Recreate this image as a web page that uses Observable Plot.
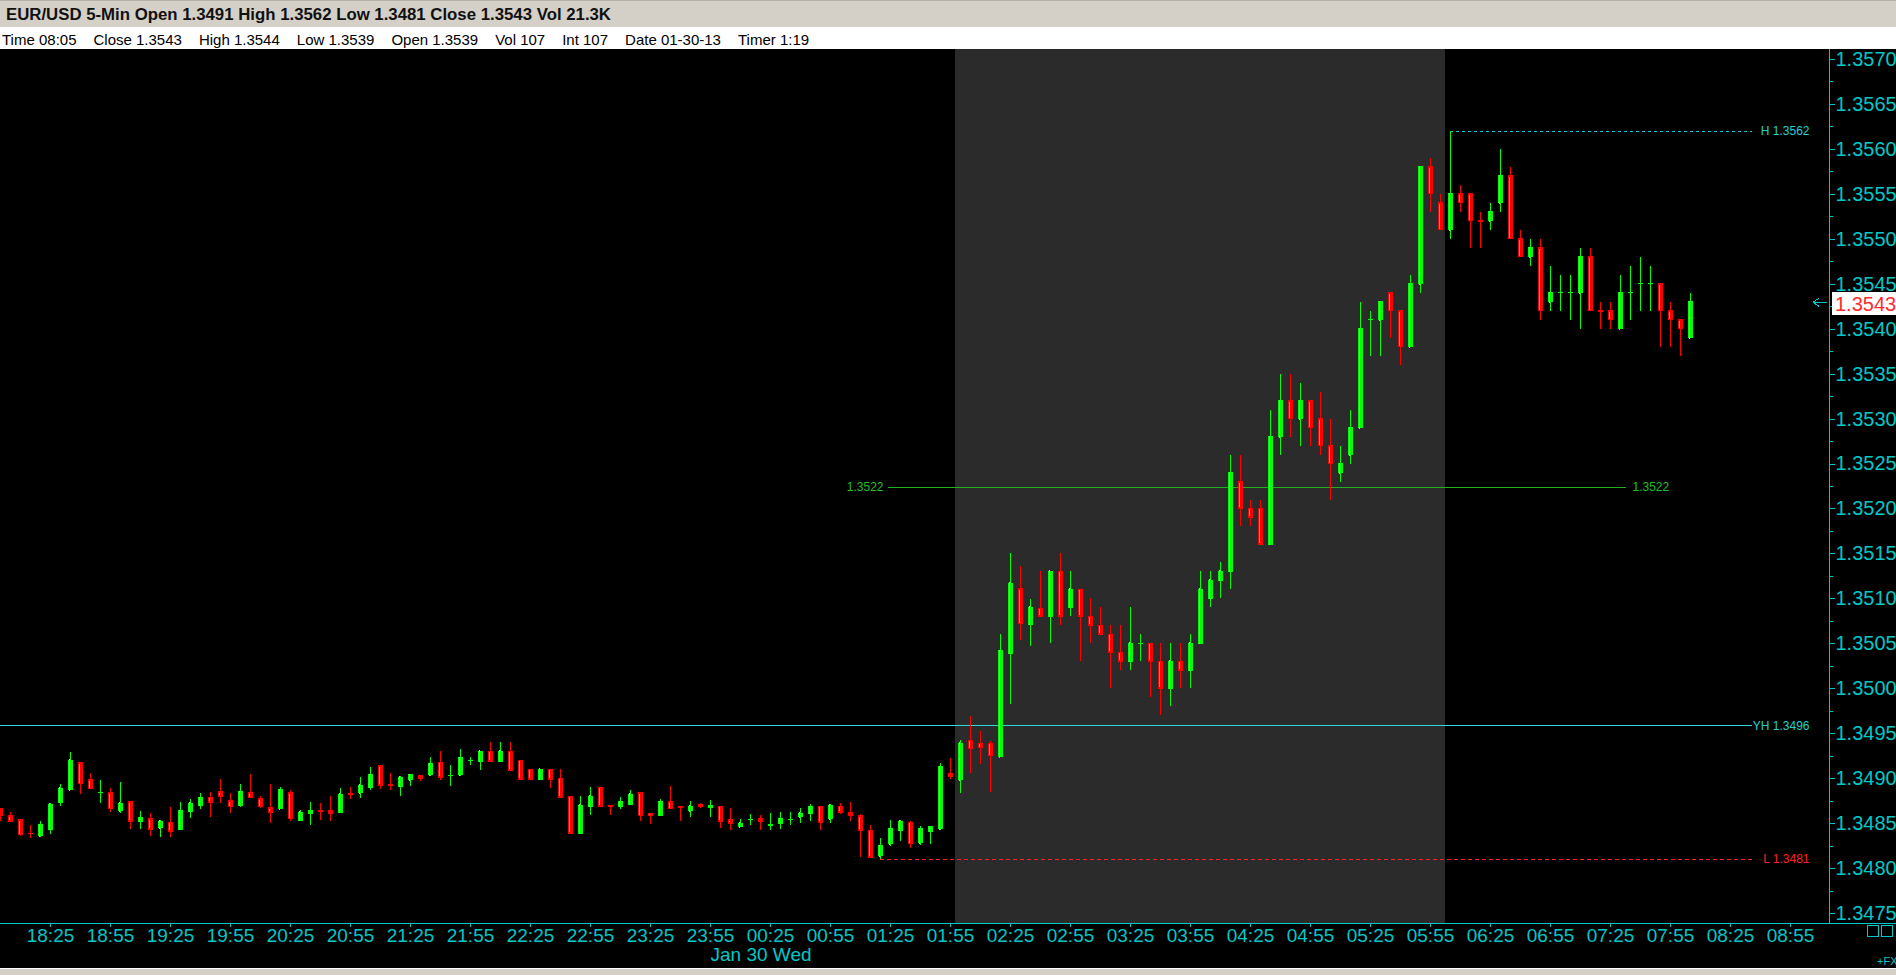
<!DOCTYPE html>
<html>
<head>
<meta charset="utf-8">
<script src="https://cdn.jsdelivr.net/npm/d3@7"></script>
<script src="https://cdn.jsdelivr.net/npm/@observablehq/plot@0.6"></script>
<style>
  html, body { margin: 0; padding: 0; width: 1896px; height: 975px; overflow: hidden; background: #d4d0c8; }
  #title { position: absolute; left: 0; top: 0; width: 1896px; height: 27px; background: #d4d0c8; border-top: 1px solid #b4b0a8; box-sizing: border-box;
           font: bold 16.8px "Liberation Sans", Arial, sans-serif; color: #111; line-height: 28px; padding-left: 6px; white-space: pre; }
  #info { position: absolute; left: 0; top: 27px; width: 1896px; height: 22px; background: #fff; overflow: hidden; }
  #infoRow { position: absolute; left: 2px; top: 2px; display: flex; gap: 17px; font: 15px "Liberation Sans", Arial, sans-serif; line-height: 22px; color: #000; white-space: pre; }
  #chart { position: absolute; left: 0; top: 49px; width: 1896px; height: 919px; background: #000; }
  #foot { position: absolute; left: 0; top: 968px; width: 1896px; height: 7px; background: #d4d0c8; border-top: 1px solid #fff; box-sizing: border-box; }
  .box { position: absolute; width: 10px; height: 10px; border: 1px solid #00c8c8; top: 925px; }
  #fx { position: absolute; left: 1877px; top: 955px; font: 11px "Liberation Sans", Arial, sans-serif; color: #00c8c8; }
</style>
</head>
<body>
<div id="title"></div>
<div id="info"><div id="infoRow"></div></div>
<div id="chart"></div>
<div class="box" style="left:1867px"></div>
<div class="box" style="left:1881px"></div>
<div id="fx">+FX</div>
<div id="foot"></div>
<script>
// ---------------- DATA ----------------
const titleText = "EUR/USD 5-Min Open 1.3491 High 1.3562 Low 1.3481 Close 1.3543 Vol 21.3K";
const infoFields = ["Time 08:05", "Close 1.3543", "High 1.3544", "Low 1.3539", "Open 1.3539", "Vol 107", "Int 107", "Date 01-30-13", "Timer 1:19"];

// 5-minute bars, first bar 18:00 (Jan 29), last bar 08:05 (Jan 30)
const firstBar = "2013-01-29T18:00:00Z";
const barMinutes = 5;

const open = [
1.34866,1.34858,1.34854,1.34839,1.34836,1.34843,1.34873,1.34887,1.34917,1.34898,
1.34884,1.34884,1.34864,1.34874,1.34852,1.34855,1.34845,1.34851,1.34843,1.34863,
1.34870,1.34879,1.34885,1.34875,1.34870,1.34884,1.34877,1.34867,1.34866,1.34884,
1.34853,1.34861,1.34864,1.34864,1.34862,1.34883,1.34884,1.34890,1.34914,1.34893,
1.34891,1.34898,1.34903,1.34904,1.34918,1.34903,1.34904,1.34920,1.34919,1.34930,
1.34919,1.34930,1.34920,1.34910,1.34899,1.34910,1.34900,1.34880,1.34839,1.34869,
1.34890,1.34870,1.34869,1.34871,1.34884,1.34861,1.34859,1.34874,1.34868,1.34864,
1.34871,1.34867,1.34869,1.34854,1.34846,1.34854,1.34855,1.34847,1.34850,1.34854,
1.34857,1.34861,1.34869,1.34855,1.34869,1.34862,1.34858,1.34842,1.34814,1.34827,
1.34842,1.34851,1.34828,1.34841,1.34844,1.34905,1.34898,1.34942,1.34939,1.34939,
1.34924,1.35039,1.35111,1.35071,1.35089,1.35080,1.35130,1.35090,1.35110,1.35080,
1.35070,1.35060,1.35040,1.35030,1.35050,1.35050,1.35030,1.35000,1.35030,1.35020,
1.35050,1.35100,1.35120,1.35130,1.35230,1.35200,1.35200,1.35160,1.35280,1.35320,
1.35300,1.35320,1.35300,1.35270,1.35240,1.35260,1.35290,1.35410,1.35410,1.35440,
1.35420,1.35380,1.35450,1.35580,1.35540,1.35510,1.35550,1.35550,1.35520,1.35520,
1.35540,1.35570,1.35500,1.35480,1.35490,1.35430,1.35440,1.35440,1.35440,1.35480,
1.35420,1.35420,1.35400,1.35440,1.35450,1.35450,1.35450,1.35420,1.35410,1.35390];

const high = [
1.34866,1.34862,1.34854,1.34848,1.34852,1.34872,1.34894,1.34929,1.34917,1.34906,
1.34898,1.34889,1.34896,1.34875,1.34864,1.34861,1.34854,1.34868,1.34874,1.34877,
1.34884,1.34885,1.34899,1.34884,1.34894,1.34905,1.34880,1.34894,1.34890,1.34887,
1.34865,1.34874,1.34872,1.34880,1.34889,1.34890,1.34901,1.34913,1.34914,1.34906,
1.34903,1.34904,1.34904,1.34924,1.34930,1.34915,1.34933,1.34924,1.34930,1.34940,
1.34940,1.34940,1.34920,1.34910,1.34910,1.34910,1.34910,1.34880,1.34880,1.34890,
1.34890,1.34870,1.34879,1.34887,1.34884,1.34861,1.34877,1.34891,1.34869,1.34875,
1.34872,1.34876,1.34869,1.34867,1.34855,1.34860,1.34859,1.34861,1.34862,1.34862,
1.34867,1.34871,1.34869,1.34871,1.34872,1.34874,1.34860,1.34848,1.34834,1.34854,
1.34854,1.34852,1.34847,1.34846,1.34917,1.34923,1.34942,1.34969,1.34952,1.34941,
1.35060,1.35150,1.35136,1.35099,1.35130,1.35130,1.35150,1.35130,1.35110,1.35100,
1.35090,1.35070,1.35070,1.35090,1.35060,1.35050,1.35050,1.35050,1.35050,1.35060,
1.35130,1.35130,1.35140,1.35260,1.35260,1.35210,1.35210,1.35310,1.35350,1.35350,
1.35340,1.35320,1.35330,1.35300,1.35270,1.35310,1.35430,1.35420,1.35430,1.35440,
1.35420,1.35460,1.35580,1.35590,1.35550,1.35620,1.35560,1.35550,1.35530,1.35540,
1.35600,1.35580,1.35510,1.35500,1.35500,1.35470,1.35460,1.35460,1.35490,1.35490,
1.35430,1.35430,1.35460,1.35470,1.35480,1.35470,1.35450,1.35430,1.35410,1.35440];

const low = [
1.34852,1.34852,1.34836,1.34834,1.34835,1.34838,1.34869,1.34887,1.34882,1.34888,
1.34872,1.34862,1.34861,1.34843,1.34843,1.34836,1.34835,1.34835,1.34843,1.34856,
1.34866,1.34857,1.34872,1.34861,1.34868,1.34878,1.34867,1.34850,1.34866,1.34852,
1.34853,1.34848,1.34854,1.34852,1.34861,1.34877,1.34878,1.34887,1.34888,1.34887,
1.34880,1.34891,1.34897,1.34903,1.34898,1.34891,1.34903,1.34915,1.34909,1.34919,
1.34919,1.34909,1.34899,1.34899,1.34899,1.34889,1.34879,1.34839,1.34839,1.34859,
1.34869,1.34859,1.34866,1.34871,1.34852,1.34849,1.34858,1.34866,1.34852,1.34857,
1.34867,1.34857,1.34845,1.34842,1.34846,1.34848,1.34842,1.34842,1.34844,1.34848,
1.34850,1.34852,1.34842,1.34850,1.34860,1.34852,1.34812,1.34811,1.34810,1.34825,
1.34830,1.34822,1.34826,1.34827,1.34842,1.34899,1.34883,1.34906,1.34916,1.34885,
1.34924,1.34982,1.35054,1.35047,1.35080,1.35050,1.35070,1.35080,1.35030,1.35050,
1.35060,1.35000,1.35020,1.35020,1.35030,1.34990,1.34970,1.34980,1.35000,1.35000,
1.35050,1.35090,1.35100,1.35110,1.35180,1.35180,1.35160,1.35160,1.35260,1.35280,
1.35270,1.35270,1.35260,1.35210,1.35230,1.35250,1.35290,1.35370,1.35370,1.35390,
1.35360,1.35380,1.35440,1.35530,1.35510,1.35500,1.35530,1.35490,1.35490,1.35510,
1.35530,1.35500,1.35480,1.35470,1.35410,1.35420,1.35420,1.35410,1.35400,1.35420,
1.35400,1.35400,1.35400,1.35410,1.35420,1.35420,1.35380,1.35380,1.35370,1.35390];

const close = [
1.34858,1.34852,1.34837,1.34838,1.34848,1.34871,1.34889,1.34920,1.34894,1.34888,
1.34884,1.34866,1.34872,1.34852,1.34856,1.34843,1.34852,1.34841,1.34864,1.34872,
1.34878,1.34873,1.34880,1.34868,1.34885,1.34878,1.34868,1.34862,1.34887,1.34855,
1.34862,1.34864,1.34863,1.34861,1.34882,1.34882,1.34892,1.34904,1.34892,1.34892,
1.34901,1.34904,1.34900,1.34916,1.34901,1.34903,1.34923,1.34920,1.34930,1.34919,
1.34930,1.34909,1.34899,1.34899,1.34910,1.34899,1.34879,1.34839,1.34870,1.34880,
1.34869,1.34869,1.34874,1.34882,1.34858,1.34858,1.34874,1.34866,1.34867,1.34869,
1.34869,1.34870,1.34852,1.34850,1.34850,1.34854,1.34852,1.34849,1.34855,1.34854,
1.34861,1.34868,1.34851,1.34870,1.34862,1.34859,1.34842,1.34812,1.34825,1.34844,
1.34852,1.34827,1.34844,1.34846,1.34913,1.34902,1.34939,1.34933,1.34934,1.34925,
1.35042,1.35117,1.35072,1.35090,1.35080,1.35130,1.35080,1.35110,1.35080,1.35070,
1.35060,1.35040,1.35030,1.35050,1.35050,1.35030,1.35000,1.35030,1.35020,1.35050,
1.35110,1.35120,1.35130,1.35240,1.35200,1.35190,1.35160,1.35280,1.35320,1.35300,
1.35320,1.35290,1.35270,1.35250,1.35250,1.35290,1.35400,1.35410,1.35430,1.35420,
1.35380,1.35450,1.35580,1.35550,1.35510,1.35550,1.35540,1.35520,1.35519,1.35530,
1.35570,1.35500,1.35480,1.35490,1.35420,1.35440,1.35440,1.35440,1.35480,1.35420,
1.35419,1.35410,1.35440,1.35440,1.35450,1.35450,1.35420,1.35410,1.35400,1.35430];

const xTickLabels = ["18:25","18:55","19:25","19:55","20:25","20:55","21:25","21:55","22:25","22:55",
  "23:25","23:55","00:25","00:55","01:25","01:55","02:25","02:55","03:25","03:55",
  "04:25","04:55","05:25","05:55","06:25","06:55","07:25","07:55","08:25","08:55"];
const dateLabel = {text: "Jan 30 Wed", at: "2013-01-30T00:00:00Z"};
const yTickLabels = [1.3475,1.3480,1.3485,1.3490,1.3495,1.3500,1.3505,1.3510,1.3515,1.3520,
  1.3525,1.3530,1.3535,1.3540,1.3545,1.3550,1.3555,1.3560,1.3565,1.3570];
const yMinorTicks = [1.34775,1.34825,1.34875,1.34925,1.34975,1.35025,1.35075,1.35125,1.35175,1.35225,
  1.35275,1.35325,1.35375,1.35425,1.35475,1.35525,1.35575,1.35625,1.35675];

// shaded session (bars 02:00 .. 06:00)
const session = {from: "2013-01-30T02:00:00Z", to: "2013-01-30T06:00:00Z"};
// price levels
const levels = [
  {name: "YH", value: 1.34959, from: "2013-01-29T18:00:00Z", to: "2013-01-30T08:36:00Z", label: "YH 1.3496"},
  {name: "H",  value: 1.35620, from: "2013-01-30T06:05:00Z", to: "2013-01-30T08:36:00Z", label: "H 1.3562"},
  {name: "L",  value: 1.34810, from: "2013-01-30T01:20:00Z", to: "2013-01-30T08:36:00Z", label: "L 1.3481"}
];
const pivot = {value: 1.35224, from: "2013-01-30T01:24:00Z", to: "2013-01-30T07:33:00Z"};
const lastClose = 1.3543;

// ---------------- STYLES ----------------
const CYAN = "#00c8c8", GREEN = "#00ff00", RED = "#ff0000";
const levelStyle = {
  YH: {stroke: "#30d8d8", dash: null, text: "#20d0d0"},
  H:  {stroke: "#00d0d0", dash: "3,3", text: "#20d0d0"},
  L:  {stroke: "#ff2020", dash: "4,3", text: "#ff2020"}
};

// ---------------- BUILD ----------------
document.getElementById("title").textContent = titleText;
const row = document.getElementById("infoRow");
infoFields.forEach(f => { const s = document.createElement("span"); s.textContent = f; row.appendChild(s); });

const t0 = new Date(firstBar);
const bars = open.map((o, i) => ({t: new Date(+t0 + i * barMinutes * 60000), o, h: high[i], l: low[i], c: close[i]}));
const isUp = d => d.c >= d.o;
const xTicks = xTickLabels.map(s => { const [h, m] = s.split(":").map(Number); return new Date(Date.UTC(2013, 0, h >= 18 ? 29 : 30, h, m)); });
const xDomain = [new Date("2013-01-29T18:00:00Z"), new Date("2013-01-30T09:14:30Z")];
const yDomain = [1.3473893, 1.3571112];

function priceTag(index, scales, values, dimensions) {
  const y = scales.y(lastClose);
  const xr = dimensions.width - dimensions.marginRight;
  const g = d3.create("svg:g");
  g.append("rect").attr("x", xr + 3).attr("y", y - 9.5).attr("width", dimensions.marginRight - 3).attr("height", 23).attr("fill", "#fff");
  g.append("text").attr("x", xr + 6).attr("y", y + 2).attr("dy", "0.36em").attr("fill", "#ff2a2a").attr("text-anchor", "start")
    .attr("font-size", 20).attr("font-family", "Liberation Sans, Arial, sans-serif").text(lastClose.toFixed(4));
  g.append("path").attr("d", `M${xr - 16},${y + 0.5}h14M${xr - 10},${y - 3.5}L${xr - 16},${y + 0.5}L${xr - 10},${y + 4.5}`)
    .attr("stroke", CYAN).attr("fill", "none");
  return g.node();
}

const marks = [
  Plot.rect([session], {x1: d => new Date(d.from), x2: d => new Date(d.to), fill: "#2b2b2b", insetLeft: -5, insetRight: -5}),
  // pivot line + labels
  Plot.ruleY([pivot], {y: "value", x1: d => new Date(d.from), x2: d => new Date(d.to), stroke: "#22b022"}),
  Plot.text([pivot], {x: d => new Date(d.from), y: "value", text: d => d.value.toFixed(4), textAnchor: "end", dx: -5, fill: "#22c022", fontSize: 12}),
  Plot.text([pivot], {x: d => new Date(d.to), y: "value", text: d => d.value.toFixed(4), textAnchor: "start", dx: 6, fill: "#22c022", fontSize: 12}),
];
levels.forEach(lv => {
  const st = levelStyle[lv.name];
  marks.push(Plot.ruleY([lv], {y: "value", x1: d => new Date(d.from), x2: d => new Date(d.to), stroke: st.stroke, strokeDasharray: st.dash}));
  marks.push(Plot.text([lv], {x: d => new Date(d.to), y: "value", text: "label", textAnchor: "end", dx: 57, fill: st.text, fontSize: 12}));
});
marks.push(
  // candles
  Plot.ruleX(bars, {x: "t", y1: "l", y2: "h", stroke: d => isUp(d) ? GREEN : RED}),
  Plot.rect(bars, {x1: "t", x2: "t", y1: "o", y2: "c", fill: d => isUp(d) ? GREEN : RED,
    insetLeft: -2.5, insetRight: -2.5, insetTop: -0.5, insetBottom: -0.5}),
  Plot.ruleX(bars.filter(d => Math.abs(d.c - d.o) > 0.00003), {x: "t", y1: "o", y2: "c", stroke: d => isUp(d) ? "#90ff90" : "#ff8a8a", dx: -1, insetTop: 1, insetBottom: 1}),
  // axes frame
  Plot.ruleX([xDomain[1]], {stroke: CYAN}),
  Plot.ruleY([yDomain[0]], {stroke: CYAN, insetRight: -67}),
  Plot.axisY(yMinorTicks, {anchor: "right", tickSize: 3, tickFormat: () => "", label: null}),
  Plot.axisY(yTickLabels, {anchor: "right", tickSize: 5, tickPadding: 1, tickFormat: d => d.toFixed(4), fontSize: 20, label: null}),
  Plot.axisX(xTicks, {anchor: "bottom", tickSize: 4, tickPadding: 1, tickFormat: d3.utcFormat("%H:%M"), fontSize: 19, label: null}),
  Plot.text([dateLabel], {x: d => new Date(d.at), text: "text", frameAnchor: "bottom", dy: 37.5, dx: -10, textAnchor: "start", fontSize: 19, fill: CYAN}),
  priceTag
);

const chart = Plot.plot({
  width: 1896, height: 919,
  marginTop: 0, marginBottom: 45, marginLeft: 0, marginRight: 67,
  style: {background: "#000", color: CYAN, fontFamily: "Liberation Sans, Arial, sans-serif", overflow: "visible"},
  x: {type: "utc", domain: xDomain, range: [0, 1829]},
  y: {domain: yDomain},
  marks
});
chart.style.shapeRendering = "crispEdges";
document.getElementById("chart").appendChild(chart);
</script>
</body>
</html>
